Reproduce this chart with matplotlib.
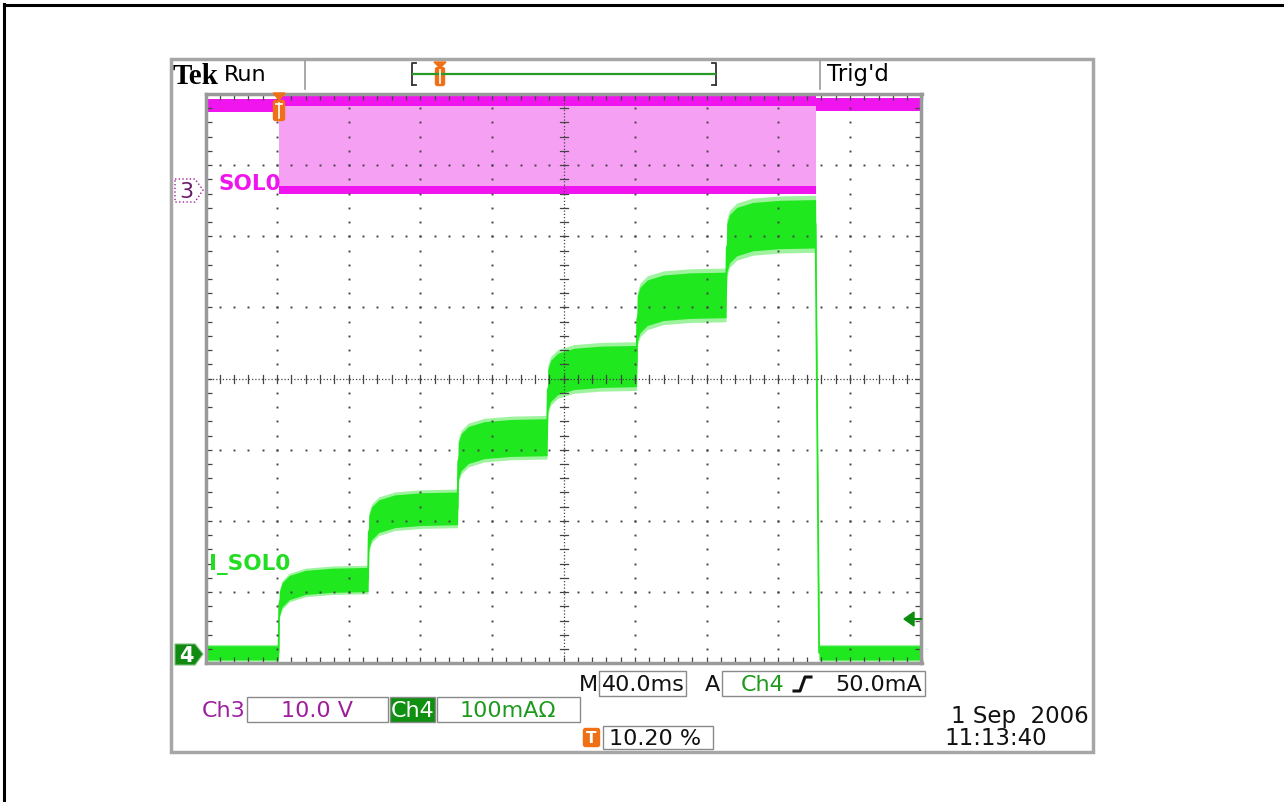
import matplotlib
matplotlib.use('Agg')
import matplotlib.pyplot as plt
from matplotlib.patches import Rectangle, FancyBboxPatch, Polygon

W, H = 1284, 803

# ---------------- data ----------------
time_per_div_ms = 40.0
trigger_pos_pct = 10.20
n_hdiv, n_vdiv = 10, 8
ch3_volts_per_div = 10.0
ch4_mA_per_div = 100.0
ch3_ground_div = 6.646      # divisions above bottom of screen
ch4_ground_div = 0.126

# Ch4 (I_SOL0) current staircase
step_start_ms = [0, 50, 100, 150, 200, 250]
step_level_mA = [105, 205, 305, 405, 505, 605]
step_halfwidth_mA = [17, 23, 26, 29, 32, 34]
pulse_end_ms = 300
fall_ms = 2.0
ch4_idle_mA = 2
ch4_idle_halfwidth_mA = 10
settle_dt_ms = [0, 0.4, 2, 6, 15, 30, 50]
settle_frac = [0, 0.66, 0.79, 0.89, 0.96, 0.99, 1.0]

# Ch3 (SOL0) voltage
ch3_pre_V = 11.9
ch3_on_top_V = 12.8
ch3_on_bottom_V = 0.1
ch3_post_V = 12.1
ch3_band_V = 0.9
ch3_low_band_V = 0.55

# ---------------- figure ----------------
fig = plt.figure(figsize=(W / 100, H / 100), dpi=100)
fig.patch.set_facecolor('white')

gl, gr, gt, gb = 205.5, 921.5, 95.0, 664.2   # graticule pixel box
rect = [gl / W, 1 - gb / H, (gr - gl) / W, (gb - gt) / H]

xmin = -trigger_pos_pct / 100 * n_hdiv * time_per_div_ms
xmax = xmin + n_hdiv * time_per_div_ms

ax4 = fig.add_axes(rect)
ax4.set_facecolor('none')
ax4.set_xlim(xmin, xmax)
ax4.set_ylim(-ch4_ground_div * ch4_mA_per_div, (n_vdiv - ch4_ground_div) * ch4_mA_per_div)
ax4.axis('off')

ax3 = ax4.twinx()
ax3.set_facecolor('none')
ax3.set_ylim(-ch3_ground_div * ch3_volts_per_div, (n_vdiv - ch3_ground_div) * ch3_volts_per_div)
ax3.axis('off')

# ---- Ch4 trace ----
t4 = [xmin, 0]
c4 = [ch4_idle_mA, ch4_idle_mA]
h4 = [ch4_idle_halfwidth_mA, ch4_idle_halfwidth_mA]
prev = ch4_idle_mA
for ts, lvl, hw in zip(step_start_ms, step_level_mA, step_halfwidth_mA):
    for dt, fr in zip(settle_dt_ms[1:], settle_frac[1:]):
        t4.append(ts + dt)
        c4.append(prev + (lvl - prev) * fr)
        h4.append(hw)
    prev = lvl
t4 += [pulse_end_ms + fall_ms, xmax]
c4 += [ch4_idle_mA, ch4_idle_mA]
h4 += [ch4_idle_halfwidth_mA, ch4_idle_halfwidth_mA]

lo_out = [c - 1.18 * h for c, h in zip(c4, h4)]
hi_out = [c + 1.18 * h for c, h in zip(c4, h4)]
lo_in = [c - h for c, h in zip(c4, h4)]
hi_in = [c + h for c, h in zip(c4, h4)]
green = '#1fe81f'
ax4.fill_between(t4, lo_out, hi_out, color='#9ff39f', lw=0, zorder=2)
ax4.fill_between(t4, lo_in, hi_in, color=green, lw=0, zorder=3)
ax4.plot(t4, c4, color=green, lw=1.3, zorder=3)

# ---- Ch3 trace ----
magenta = '#f014ee'
pink = '#f6a0f3'
ax3.fill_between([0, pulse_end_ms], ch3_on_bottom_V, ch3_on_top_V, color=pink, lw=0, zorder=1)
ax3.fill_between([xmin, 0], ch3_pre_V - ch3_band_V, ch3_pre_V + ch3_band_V, color=magenta, lw=0, zorder=2)
ax3.fill_between([0, pulse_end_ms], ch3_on_top_V - ch3_band_V, ch3_on_top_V + ch3_band_V,
                 color=magenta, lw=0, zorder=2)
ax3.fill_between([0, pulse_end_ms], ch3_on_bottom_V - ch3_low_band_V, ch3_on_bottom_V + ch3_low_band_V,
                 color=magenta, lw=0, zorder=2)
ax3.fill_between([pulse_end_ms, xmax], ch3_post_V - ch3_band_V, ch3_post_V + ch3_band_V,
                 color=magenta, lw=0, zorder=2)

# ---------------- graticule ----------------
axg = fig.add_axes(rect)
axg.set_zorder(5)
axg.set_facecolor('none')
axg.set_xlim(0, n_hdiv)
axg.set_ylim(0, n_vdiv)
dotc = '#444444'
minor_x = [i * 0.2 for i in range(n_hdiv * 5 + 1)]
minor_y = [j * 0.2 for j in range(n_vdiv * 5 + 1)]
for i in range(1, n_hdiv):
    if i == n_hdiv // 2:
        continue
    axg.plot([i] * len(minor_y), minor_y, ls='none', marker='s', ms=1.4, color=dotc, mew=0)
for j in range(1, n_vdiv):
    if j == n_vdiv // 2:
        continue
    axg.plot(minor_x, [j] * len(minor_x), ls='none', marker='s', ms=1.4, color=dotc, mew=0)
# centre lines
axg.plot([n_hdiv / 2, n_hdiv / 2], [0, n_vdiv], color=dotc, lw=0.9, ls=(0, (1, 1.6)))
axg.plot([0, n_hdiv], [n_vdiv / 2, n_vdiv / 2], color=dotc, lw=0.9, ls=(0, (1, 1.6)))
tx, ty = 4 / 71.6, 4 / 71.2
for y in minor_y:
    axg.plot([n_hdiv / 2 - tx, n_hdiv / 2 + tx], [y, y], color=dotc, lw=0.9)
for x in minor_x:
    axg.plot([x, x], [n_vdiv / 2 - ty, n_vdiv / 2 + ty], color=dotc, lw=0.9)
axg.set_xticks(minor_x)
axg.set_yticks(minor_y)
axg.tick_params(direction='in', length=4, width=0.9, color=dotc,
                top=True, right=True, labelbottom=False, labelleft=False)
for s in axg.spines.values():
    s.set_color('#9a9a9a')
    s.set_linewidth(2.5)

# ---------------- decorations (pixel coordinates) ----------------
axd = fig.add_axes([0, 0, 1, 1])
axd.set_zorder(20)
axd.set_facecolor('none')
axd.set_xlim(0, W)
axd.set_ylim(H, 0)
axd.axis('off')

# outer page border (left & top)
axd.plot([4, 4], [5, H], color='black', lw=2.2)
axd.plot([4, W], [5.5, 5.5], color='black', lw=2.2)

# scope panel frame
axd.add_patch(Rectangle((171, 60), 922, 693, fill=False, ec='#a6a6a6', lw=2.5))

# header
axd.text(173, 76, 'Tek', fontsize=21, fontweight='bold', family='Liberation Serif',
         va='center', ha='left', color='black')
axd.text(224, 75, 'Run', fontsize=16, va='center', ha='left', color='black')
axd.text(827, 75, "Trig'd", fontsize=16.5, va='center', ha='left', color='black')
for xs in (305, 820):
    axd.plot([xs, xs], [62, 90], color='#9a9a9a', lw=1.2)
# record bar
axd.plot([412, 412, 416], [86, 64, 64], color='#333333', lw=1.3)
axd.plot([412, 416], [86, 86], color='#333333', lw=1.3)
axd.plot([716, 716, 712], [86, 64, 64], color='#333333', lw=1.3)
axd.plot([716, 712], [86, 86], color='#333333', lw=1.3)
axd.plot([413, 715], [75, 75], color='#2a9a2a', lw=1.6)
orange = '#f07018'
axd.add_patch(Polygon([(434, 63), (446, 63), (440, 69)], color=orange))
axd.add_patch(FancyBboxPatch((436, 69), 8, 17, boxstyle='round,pad=0.5,rounding_size=2',
                             color=orange))
axd.plot([440, 440], [71, 84], color='white', lw=1.2)

# trigger position marker on graticule
axd.add_patch(Polygon([(273, 94), (285, 94), (279, 101)], color=orange))
axd.add_patch(FancyBboxPatch((274, 102), 10, 19, boxstyle='round,pad=0.5,rounding_size=2',
                             color=orange))
axd.plot([279, 279], [104, 119], color='white', lw=1.2)
axd.plot([276, 282], [105, 105], color='white', lw=1.2)

# channel ground markers
purple = '#9c1f9c'
axd.add_patch(Polygon([(175, 180), (195, 180), (203, 191), (195, 203), (175, 203)],
                      closed=True, fc='white', ec=purple, lw=1.0, ls=':'))
axd.text(186, 192, '3', fontsize=16, color='#6a1a6a', ha='center', va='center')
axd.add_patch(Polygon([(175, 645), (195, 645), (203, 655), (195, 666), (175, 666)],
                      closed=True, fc='#108a10', ec='#7cc07c', lw=0.8))
axd.text(186, 656, '4', fontsize=15, color='white', fontweight='bold', ha='center', va='center')

# trace labels
axd.text(218, 184, 'SOL0', fontsize=15.5, fontweight='bold', color=magenta, ha='left', va='center')
axd.text(209, 565, 'I_SOL0', fontsize=15.5, fontweight='bold', color='#22dd22', ha='left', va='center')

# trigger level arrow
dgreen = '#0c8c0c'
axd.add_patch(Polygon([(904, 620), (914, 613), (914, 627)], color=dgreen))
axd.plot([914, 921], [620, 620], color=dgreen, lw=1.5)

# bottom readouts
boxc = '#8a8a8a'
def box(x0, y0, x1, y1, fc='none'):
    axd.add_patch(Rectangle((x0, y0), x1 - x0, y1 - y0, fc=fc, ec=boxc, lw=1.0))

fs = 16
ch4c = '#1f9a1f'
axd.text(598, 685, 'M', fontsize=fs, ha='right', va='center', color='#111111')
box(599, 672, 686, 697)
axd.text(643, 685, '40.0ms', fontsize=fs, ha='center', va='center', color='#111111')
axd.text(705, 685, 'A', fontsize=fs, ha='left', va='center', color='#111111')
box(722, 672, 925, 697)
axd.text(741, 685, 'Ch4', fontsize=fs, ha='left', va='center', color=ch4c)
axd.plot([794, 800, 805, 811], [692, 692, 678, 678], color='#111111', lw=2.2)
axd.text(922, 685, '50.0mA', fontsize=fs, ha='right', va='center', color='#111111')

axd.text(202, 711, 'Ch3', fontsize=fs, ha='left', va='center', color=purple)
box(247, 698, 388, 723)
axd.text(317, 711, '10.0 V', fontsize=fs, ha='center', va='center', color=purple)
box(390, 698, 435, 723, fc='#109010')
axd.text(412.5, 711, 'Ch4', fontsize=fs, ha='center', va='center', color='white')
box(437, 698, 580, 723)
axd.text(460, 711, '100mAΩ', fontsize=fs, ha='left', va='center', color=ch4c)

axd.add_patch(FancyBboxPatch((584, 730), 15, 17, boxstyle='round,pad=0.5,rounding_size=2',
                             color=orange))
axd.text(591.5, 739, 'T', fontsize=11, fontweight='bold', ha='center', va='center', color='white')
box(603, 727, 713, 750)
axd.text(609, 739, '10.20 %', fontsize=fs, ha='left', va='center', color='#111111')

axd.text(1089, 717, '1 Sep  2006', fontsize=16.5, ha='right', va='center', color='#111111')
axd.text(944, 739, '11:13:40', fontsize=16.5, ha='left', va='center', color='#111111')

fig.savefig('out.png', dpi=100)
